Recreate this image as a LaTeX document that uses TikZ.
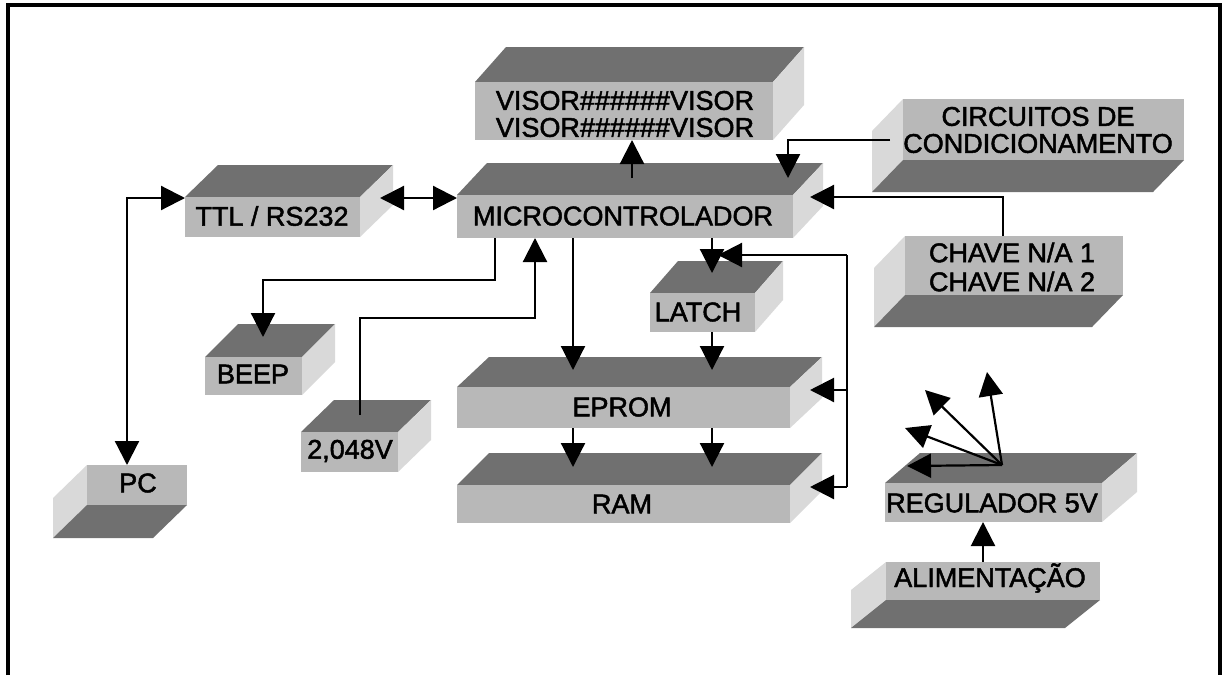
\documentclass[tikz,border=0pt]{standalone}
\usepackage{fontspec}
\setmainfont{Liberation Sans}
\newfontfamily\lblfont{Liberation Sans}[RawFeature={embolden=1.8}]
\usetikzlibrary{arrows.meta}
\definecolor{topc}{gray}{0.44}
\definecolor{frontc}{gray}{0.72}
\definecolor{sidec}{gray}{0.85}
\definecolor{botc}{gray}{0.44}
\tikzset{
  face/.style={fill=frontc, inner sep=0pt, outer sep=0pt, draw=none},
  lbl/.style={font=\lblfont\fontsize{13.5}{13.5}\selectfont, inner sep=0pt, align=center, text=black},
  lbltwo/.style={font=\lblfont\fontsize{13.5}{14.5}\selectfont, inner sep=0pt, align=center, text=black},
  arr/.style={line width=1.1pt, -{Triangle[length=12pt,width=12pt]}},
  darr/.style={line width=1.1pt, {Triangle[length=12pt,width=12pt]}-{Triangle[length=12pt,width=12pt]}},
  wire/.style={line width=1.1pt},
  frame/.style={line width=1.6pt}
}
% box seen from above-left: top face and right side visible
\newcommand{\upbox}[7]{%
  \fill[topc] (#2,#3) -- ({#2+#6},{#3-#7}) -- ({#4+#6},{#3-#7}) -- (#4,#3) -- cycle;
  \fill[sidec] (#4,#3) -- ({#4+#6},{#3-#7}) -- ({#4+#6},{#5-#7}) -- (#4,#5) -- cycle;
  \node[face, minimum width={(#4-#2)*0.5pt}, minimum height={(#5-#3)*0.5pt}] (#1) at ({(#2+#4)/2},{(#3+#5)/2}) {};
}
% box seen from below-right: left side and bottom face visible
\newcommand{\dnbox}[7]{%
  \fill[sidec] (#2,#3) -- (#2,#5) -- ({#2-#6},{#5+#7}) -- ({#2-#6},{#3+#7}) -- cycle;
  \fill[botc] (#2,#5) -- (#4,#5) -- ({#4-#6},{#5+#7}) -- ({#2-#6},{#5+#7}) -- cycle;
  \node[face, minimum width={(#4-#2)*0.5pt}, minimum height={(#5-#3)*0.5pt}] (#1) at ({(#2+#4)/2},{(#3+#5)/2}) {};
}
\begin{document}
\begin{tikzpicture}[x=0.5pt,y=-0.5pt]
\useasboundingbox (0,0) rectangle (1224,675);
\fill[white] (0,0) rectangle (1224,675);
% frame
\draw[frame] (8,675) -- (8,5) -- (1220,5) -- (1220,675);

% boxes
\upbox{visor}{475}{82}{773}{140}{31}{35}
\upbox{micro}{457}{195}{793}{238}{30}{32}
\upbox{ttl}{185}{197}{360}{237}{33}{32}
\upbox{beep}{205}{357}{302}{395}{33}{33}
\upbox{vref}{301}{432}{398}{472}{33}{32}
\upbox{latch}{650}{293}{755}{332}{28}{32}
\upbox{eprom}{457}{387}{790}{428}{32}{30}
\upbox{ram}{457}{485}{790}{523}{32}{32}
\upbox{reg}{885}{483}{1102}{522}{35}{30}
\dnbox{pc}{87}{465}{187}{505}{34}{33}
\dnbox{circ}{903}{99}{1184}{160}{31}{32}
\dnbox{chave}{905}{236}{1123}{295}{31}{32}
\dnbox{alim}{886}{562}{1100}{600}{35}{28}

% labels
\node[lbl] (visor-t) at (625,114) {VISOR\#\#\#\#\#\#VISOR\\VISOR\#\#\#\#\#\#VISOR};
\node[lbl] (micro-t) at (623,216) {MICROCONTROLADOR};
\node[lbl] (ttl-t) at (272,216) {TTL / RS232};
\node[lbl] (beep-t) at (253,374) {BEEP};
\node[lbl] (vref-t) at (350,451) {2,048V};
\node[lbl] (latch-t) at (698,312) {LATCH};
\node[lbl] (eprom-t) at (622,407) {EPROM};
\node[lbl] (ram-t) at (622,504) {RAM};
\node[lbl] (reg-t) at (992,503) {REGULADOR 5V};
\node[lbl] (pc-t) at (138,483) {PC};
\node[lbl] (circ-t) at (1038,130) {CIRCUITOS DE\\CONDICIONAMENTO};
\node[lbltwo] (chave-t) at (1012,267) {CHAVE N/A 1\\CHAVE N/A 2};
\node[lbl] (alim-t) at (990,578) {ALIMENTAÇÃO};

% connector end points
\coordinate (ttlL) at (185,198);
\coordinate (ttlR) at (380,198);
\coordinate (microL) at (457,198);
\coordinate (microTop) at (632,178);
\coordinate (circL) at (890,140);
\coordinate (microTopR) at (788,178);
\coordinate (microR) at (810,197);
\coordinate (beepTop) at (263,337);
\coordinate (beepBend) at (495,280);
\coordinate (vrefTop) at (360,415);
\coordinate (vrefBend) at (360,318);
\coordinate (epromTopA) at (573,370);
\coordinate (epromTopB) at (712,370);
\coordinate (latchTop) at (712,273);
\coordinate (latchTopR) at (718,255);
\coordinate (busT) at (847,255);
\coordinate (busM) at (847,390);
\coordinate (busB) at (847,487);
\coordinate (epromR) at (810,390);
\coordinate (ramR) at (810,487);
\coordinate (ramTopA) at (573,467);
\coordinate (ramTopB) at (712,467);
\coordinate (regO) at (1002,465);
\coordinate (fanA) at (907,466);
\coordinate (fanB) at (905,428);
\coordinate (fanC) at (925,390);
\coordinate (fanD) at (987,372);

% connectors
\draw[darr] (pc.north -| 127,0) |- (ttlL);
\draw[darr] (ttlR) -- (microL);
\draw[arr] (microTop) -- (632,0 |- visor.south);
\draw[arr] (circL) -| (microTopR);
\draw[arr] (1003,0 |- chave.north) |- (microR);
\draw[arr] (495,0 |- micro.south) -- (beepBend) -| (beepTop);
\draw[arr] (vrefTop) -- (vrefBend) -| (535,0 |- micro.south);
\draw[arr] (573,0 |- micro.south) -- (epromTopA);
\draw[arr] (712,0 |- micro.south) -- (latchTop);
\draw[arr] (busT) -- (latchTopR);
\draw[wire] (busT) -- (busB);
\draw[arr] (busM) -- (epromR);
\draw[arr] (busB) -- (ramR);
\draw[arr] (712,0 |- latch.south) -- (epromTopB);
\draw[arr] (573,0 |- eprom.south) -- (ramTopA);
\draw[arr] (712,0 |- eprom.south) -- (ramTopB);
\draw[arr] (regO) -- (fanA);
\draw[arr] (regO) -- (fanB);
\draw[arr] (regO) -- (fanC);
\draw[arr] (regO) -- (fanD);
\draw[arr] (983,0 |- alim.north) -- (983,0 |- reg.south);
\end{tikzpicture}
\end{document}
